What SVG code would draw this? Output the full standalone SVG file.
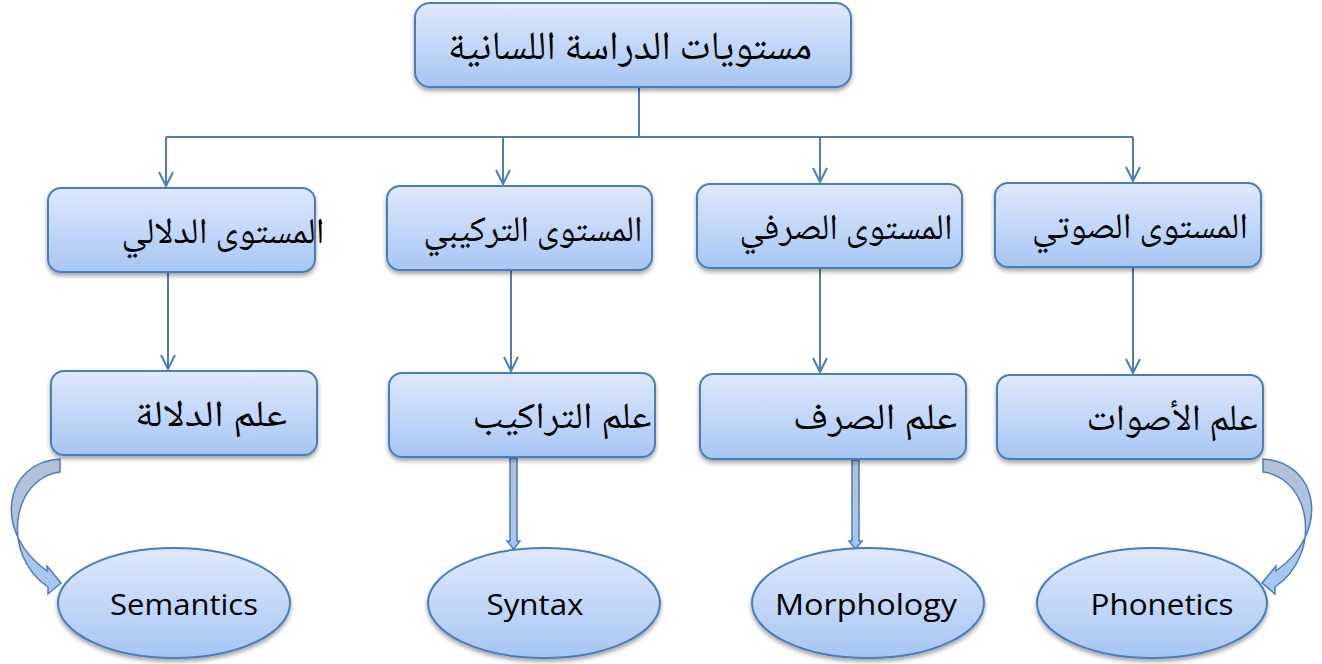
<svg xmlns="http://www.w3.org/2000/svg" width="1322" height="664" viewBox="0 0 1322 664">
  <defs>
    <linearGradient id="fill" x1="0" y1="0" x2="0" y2="1">
      <stop offset="0" stop-color="#dfe9fc"/>
      <stop offset="1" stop-color="#a7c6f4"/>
    </linearGradient>
    <linearGradient id="arrowFill" x1="0" y1="0" x2="0" y2="1">
      <stop offset="0" stop-color="#b3c0d4"/>
      <stop offset="1" stop-color="#a9c7f3"/>
    </linearGradient>
    <filter id="shadow" x="-10%" y="-10%" width="120%" height="130%">
      <feDropShadow dx="0" dy="3" stdDeviation="2" flood-color="#000" flood-opacity="0.35"/>
    </filter>
    <marker id="vee" viewBox="0 0 16 16" refX="15" refY="8" markerWidth="16" markerHeight="16" markerUnits="userSpaceOnUse" orient="auto">
      <polyline points="1,1 15,8 1,15" fill="none" stroke="#4a7ebb" stroke-width="2"/>
    </marker>
  </defs>
  <style>
    .box { fill: url(#fill); stroke: #4a7ebb; stroke-width: 2; filter: url(#shadow); }
    .link { fill: none; stroke: #4a7ebb; stroke-width: 2; }
    .block { fill: url(#arrowFill); stroke: #4a7ebb; stroke-width: 1.5; }
    .ar { font-family: "Noto Naskh Arabic", "DejaVu Sans", sans-serif; fill: #000; text-anchor: middle; }
    .en { font-family: "Open Sans", "Lato", sans-serif; font-size: 30px; fill: #000; text-anchor: middle; }
  </style>

  <!-- connectors -->
  <g id="connectors">
    <line class="link" x1="639" y1="87" x2="639" y2="137"/>
    <line class="link" x1="166" y1="137" x2="1133" y2="137"/>
    <line class="link" x1="166" y1="137" x2="166" y2="186" marker-end="url(#vee)"/>
    <line class="link" x1="503" y1="137" x2="503" y2="184" marker-end="url(#vee)"/>
    <line class="link" x1="820" y1="137" x2="820" y2="182" marker-end="url(#vee)"/>
    <line class="link" x1="1133" y1="137" x2="1133" y2="181" marker-end="url(#vee)"/>

    <line class="link" x1="168" y1="272" x2="168" y2="369" marker-end="url(#vee)"/>
    <line class="link" x1="511" y1="270" x2="511" y2="371" marker-end="url(#vee)"/>
    <line class="link" x1="820" y1="268" x2="820" y2="372" marker-end="url(#vee)"/>
    <line class="link" x1="1133" y1="267" x2="1133" y2="373" marker-end="url(#vee)"/>

    <!-- hollow straight block arrows -->
    <path class="block" d="M510 458 L517 458 L517 541 L520 541 L513.5 549 L507 541 L510 541 Z"/>
    <path class="block" d="M852 460 L859 460 L859 541 L862 541 L855.5 549 L849 541 L852 541 Z"/>

    <!-- curved block arrows -->
    <path class="block" d="M60 459 C 4 462, -8 532, 47 571 L 47 566 L 61 583 L 48 594 L 48 587 C 0 554, 12 478, 60 472 Z"/>
    <path class="block" transform="translate(1323,0) scale(-1,1)" d="M60 459 C 4 462, -8 532, 47 571 L 47 566 L 61 583 L 48 594 L 48 587 C 0 554, 12 478, 60 472 Z"/>
  </g>

  <!-- root -->
  <g id="root">
    <rect class="box" x="415" y="3" width="436" height="84" rx="15"/>
    <text class="ar" x="630" y="59" font-size="40" textLength="364" lengthAdjust="spacingAndGlyphs">مستويات الدراسة اللسانية</text>
  </g>

  <!-- levels -->
  <g id="level-semantic">
    <rect class="box" x="48" y="188" width="267" height="84" rx="13"/>
    <text class="ar" x="223" y="243" font-size="36" textLength="203" lengthAdjust="spacingAndGlyphs">المستوى الدلالي</text>
  </g>
  <g id="level-syntactic">
    <rect class="box" x="387" y="186" width="265" height="84" rx="13"/>
    <text class="ar" x="533" y="241" font-size="36" textLength="219" lengthAdjust="spacingAndGlyphs">المستوى التركيبي</text>
  </g>
  <g id="level-morphological">
    <rect class="box" x="697" y="184" width="265" height="84" rx="13"/>
    <text class="ar" x="846" y="239" font-size="36" textLength="213" lengthAdjust="spacingAndGlyphs">المستوى الصرفي</text>
  </g>
  <g id="level-phonetic">
    <rect class="box" x="995" y="183" width="266" height="84" rx="13"/>
    <text class="ar" x="1140" y="238" font-size="36" textLength="216" lengthAdjust="spacingAndGlyphs">المستوى الصوتي</text>
  </g>

  <!-- sciences -->
  <g id="science-semantics">
    <rect class="box" x="51" y="371" width="266" height="84" rx="13"/>
    <text class="ar" x="211" y="426" font-size="37" textLength="152" lengthAdjust="spacingAndGlyphs">علم الدلالة</text>
  </g>
  <g id="science-syntax">
    <rect class="box" x="389" y="373" width="266" height="84" rx="13"/>
    <text class="ar" x="562" y="428" font-size="37" textLength="179" lengthAdjust="spacingAndGlyphs">علم التراكيب</text>
  </g>
  <g id="science-morphology">
    <rect class="box" x="700" y="374" width="266" height="85" rx="13"/>
    <text class="ar" x="875" y="429" font-size="37" textLength="164" lengthAdjust="spacingAndGlyphs">علم الصرف</text>
  </g>
  <g id="science-phonetics">
    <rect class="box" x="997" y="375" width="266" height="84" rx="13"/>
    <text class="ar" x="1172" y="430" font-size="37" textLength="171" lengthAdjust="spacingAndGlyphs">علم الأصوات</text>
  </g>

  <!-- English terms -->
  <g id="term-semantics">
    <ellipse class="box" cx="174" cy="603" rx="116" ry="55"/>
    <text class="en" x="184" y="615" textLength="148" lengthAdjust="spacingAndGlyphs">Semantics</text>
  </g>
  <g id="term-syntax">
    <ellipse class="box" cx="544" cy="603" rx="116" ry="55"/>
    <text class="en" x="535" y="615" textLength="97" lengthAdjust="spacingAndGlyphs">Syntax</text>
  </g>
  <g id="term-morphology">
    <ellipse class="box" cx="868" cy="603" rx="116" ry="55"/>
    <text class="en" x="866" y="615" textLength="182" lengthAdjust="spacingAndGlyphs">Morphology</text>
  </g>
  <g id="term-phonetics">
    <ellipse class="box" cx="1152" cy="603" rx="115" ry="55"/>
    <text class="en" x="1162" y="615" textLength="143" lengthAdjust="spacingAndGlyphs">Phonetics</text>
  </g>
</svg>
